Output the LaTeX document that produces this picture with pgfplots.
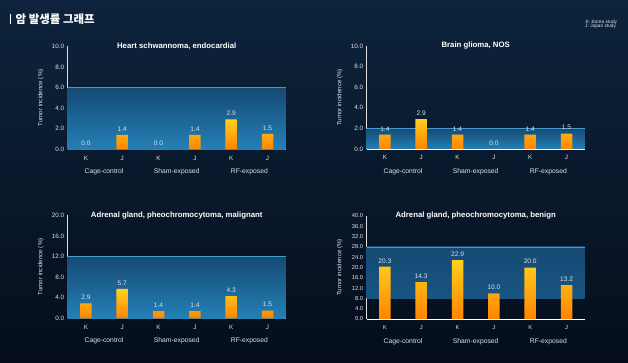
\documentclass[border=0pt]{standalone}
\usepackage{fontspec}
\setmainfont{Liberation Sans}
\newfontfamily\kr{Noto Sans CJK KR}
\usepackage{pgfplots}
\pgfplotsset{compat=1.18}
\definecolor{bgTop}{RGB}{13,36,60}
\definecolor{bgBot}{RGB}{5,13,27}
\definecolor{barTop}{RGB}{255,208,30}
\definecolor{barBot}{RGB}{255,132,0}
\definecolor{bandTop}{RGB}{21,74,116}
\definecolor{bandBot}{RGB}{36,128,182}
\definecolor{bandEdge}{RGB}{70,155,205}
\definecolor{txt}{RGB}{220,226,234}
\pgfplotsset{
 panel/.style={
  scale only axis, width=218bp, height=103bp,
  xmin=-0.5, xmax=5.5, ymin=0,
  axis x line*=bottom, axis y line*=left,
  x axis line style={draw=white, line width=0.9bp},
  y axis line style={draw=white!75!gray, line width=0.5bp},
  major tick length=0pt,
  xtick={0,...,5}, xticklabels={K,J,K,J,K,J},
  /pgf/number format/assume math mode=true,
  tick label style={font=\fontsize{6.3}{7}\selectfont, text=txt},
  xticklabel style={yshift=-3bp},
  yticklabel style={/pgf/number format/.cd, fixed, fixed zerofill, precision=1},
  ylabel={Tumor incidence (\%)},
  every axis y label/.style={at={(axis description cs:-0.124,0.5)}, rotate=90, anchor=center, font=\fontsize{6.2}{7}\selectfont, text=txt},
  every axis title/.style={at={(axis description cs:0.5,1)}, anchor=center, font=\bfseries\fontsize{7.8}{9}\selectfont, text=white},
  clip=false,
 },
 bars/.style={ybar, bar width=11.5bp, draw=none, top color=barTop, bottom color=barBot,
  nodes near coords={\pgfmathprintnumber[fixed,fixed zerofill,precision=1,assume math mode=true]{\pgfplotspointmeta}},
  every node near coord/.append style={font=\fontsize{6.6}{7}\selectfont, text=txt}},
 band/.style={draw=none, top color=bandTop, bottom color=bandBot},
 edge/.style={draw=bandEdge, line width=0.5bp},
}
\tikzset{grp/.style={font=\fontsize{6.8}{8}\selectfont, text=txt, yshift=-22.4bp}}
\newcommand\groups{%
 \node[grp] at (axis cs:0.5,0) {Cage-control};
 \node[grp] at (axis cs:2.5,0) {Sham-exposed};
 \node[grp] at (axis cs:4.5,0) {RF-exposed};}
\begin{document}
\begin{tikzpicture}
\shade[top color=bgTop, bottom color=bgBot] (0,0) rectangle (628bp,363bp);
\fill[white] (9.5bp,339bp) rectangle (11.3bp,349bp);
\node[anchor=west, font=\kr\bfseries\fontsize{11.5}{13}\selectfont, text=white, inner sep=0pt] at (15.5bp,344bp) {암 발생률 그래프};
\node[anchor=west, font=\fontsize{4.8}{5}\selectfont, text=txt, inner sep=0pt] at (585.5bp,340.7bp) {K: Korea study};
\node[anchor=west, font=\fontsize{4.8}{5}\selectfont, text=txt, inner sep=0pt] at (585bp,336.3bp) {J: Japan study};

\begin{axis}[panel, at={(67.7bp,213.7bp)}, anchor=south west, ymax=10, ytick={0,2,...,10},
 title={Heart schwannoma, endocardial}]
\addplot[band] coordinates {(-0.5,0) (5.5,0) (5.5,6) (-0.5,6)} -- cycle;
\addplot[edge] coordinates {(-0.5,6) (5.5,6)};
\addplot[bars] coordinates {(0,0) (1,1.4) (2,0) (3,1.4) (4,2.9) (5,1.5)};
\groups
\end{axis}

\begin{axis}[panel, at={(366.7bp,214bp)}, anchor=south west, ymax=10, ytick={0,2,...,10},
 title={Brain glioma, NOS}]
\addplot[band] coordinates {(-0.5,0) (5.5,0) (5.5,2) (-0.5,2)} -- cycle;
\addplot[edge] coordinates {(-0.5,2) (5.5,2)};
\addplot[bars] coordinates {(0,1.4) (1,2.9) (2,1.4) (3,0) (4,1.4) (5,1.5)};
\groups
\end{axis}

\begin{axis}[panel, at={(67.7bp,44.7bp)}, anchor=south west, ymax=20, ytick={0,4,...,20},
 title={Adrenal gland, pheochromocytoma, malignant}]
\addplot[band] coordinates {(-0.5,0) (5.5,0) (5.5,12) (-0.5,12)} -- cycle;
\addplot[edge] coordinates {(-0.5,12) (5.5,12)};
\addplot[bars] coordinates {(0,2.9) (1,5.7) (2,1.4) (3,1.4) (4,4.3) (5,1.5)};
\groups
\end{axis}

\begin{axis}[panel, at={(366.7bp,44bp)}, anchor=south west, ymax=40, ytick={0,4,...,40},
 tick label style={font=\fontsize{5.8}{6}\selectfont},
 title={Adrenal gland, pheochromocytoma, benign}]
\addplot[draw=none, top color=bandTop, bottom color=bandTop!80!bandBot] coordinates {(-0.5,8) (5.5,8) (5.5,28) (-0.5,28)} -- cycle;
\addplot[edge] coordinates {(-0.5,28) (5.5,28)};
\addplot[bars] coordinates {(0,20.3) (1,14.3) (2,22.9) (3,10.0) (4,20.0) (5,13.2)};
\groups
\end{axis}
\end{tikzpicture}
\end{document}
